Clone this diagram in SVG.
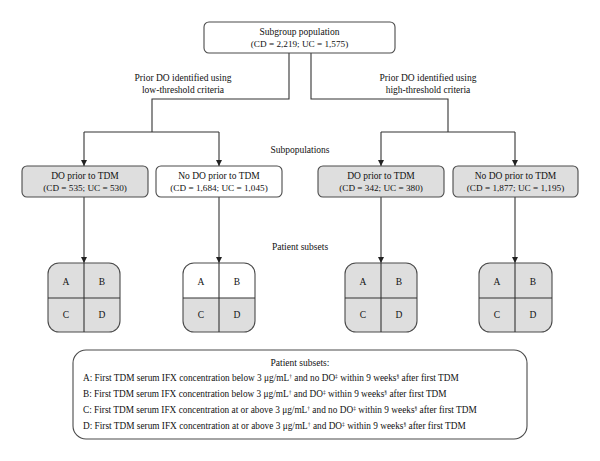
<svg xmlns="http://www.w3.org/2000/svg" width="600" height="461" viewBox="0 0 600 461">
<defs>
<style>
text{font-family:"Liberation Serif","Times New Roman",serif;font-size:9.5px;fill:#111}
.c{text-anchor:middle}
.n{font-size:9.2px}
.lg{font-size:9.3px}
.box{stroke:#4a4a4a;stroke-width:1.1}
.g{fill:#dedede}
.w{fill:#fff}
.ln{fill:none;stroke:#333;stroke-width:1.1}
.sup{font-size:5.5px}
</style>
<marker id="ah" viewBox="0 0 6 6" refX="6" refY="3" markerWidth="6" markerHeight="6" markerUnits="userSpaceOnUse" orient="auto">
<path d="M0,0 L6,3 L0,6 z" fill="#222"/>
</marker>
</defs>
<rect width="600" height="461" fill="#fff"/>

<g id="connectors">
<polyline class="ln" points="289,53 289,99 152,99 152,132"/>
<polyline class="ln" points="84,132 219,132"/>
<line class="ln" x1="84" y1="132" x2="84" y2="166" marker-end="url(#ah)"/>
<line class="ln" x1="219" y1="132" x2="219" y2="166" marker-end="url(#ah)"/>
<polyline class="ln" points="311,53 311,99 448,99 448,132"/>
<polyline class="ln" points="381,132 515,132"/>
<line class="ln" x1="381" y1="132" x2="381" y2="166" marker-end="url(#ah)"/>
<line class="ln" x1="515" y1="132" x2="515" y2="166" marker-end="url(#ah)"/>
<line class="ln" x1="84" y1="197" x2="84" y2="263" marker-end="url(#ah)"/>
<line class="ln" x1="219" y1="197" x2="219" y2="263" marker-end="url(#ah)"/>
<line class="ln" x1="381" y1="197" x2="381" y2="263" marker-end="url(#ah)"/>
<line class="ln" x1="515" y1="197" x2="515" y2="263" marker-end="url(#ah)"/>
</g>

<g id="labels">
<text class="c" x="183" y="81">Prior DO identified using</text>
<text class="c" x="183" y="93">low-threshold criteria</text>
<text class="c" x="428" y="81">Prior DO identified using</text>
<text class="c" x="428" y="93">high-threshold criteria</text>
<text class="c" x="300" y="153">Subpopulations</text>
<text class="c" x="300" y="250">Patient subsets</text>
</g>

<g id="top">
<rect class="box w" x="204" y="22" width="191" height="31" rx="5"/>
<text class="c" x="299.5" y="35">Subgroup population</text>
<text class="c n" x="299.5" y="47">(CD = 2,219; UC = 1,575)</text>
</g>

<g id="low-do">
<rect class="box g" x="22" y="166" width="126" height="31" rx="5"/>
<text class="c" x="85" y="179">DO prior to TDM</text>
<text class="c n" x="85" y="191">(CD = 535; UC = 530)</text>
</g>
<g id="low-nodo">
<rect class="box w" x="156" y="166" width="126" height="31" rx="5"/>
<text class="c" x="219" y="179">No DO prior to TDM</text>
<text class="c n" x="219" y="191">(CD = 1,684; UC = 1,045)</text>
</g>
<g id="high-do">
<rect class="box g" x="318" y="166" width="126" height="31" rx="5"/>
<text class="c" x="381" y="179">DO prior to TDM</text>
<text class="c n" x="381" y="191">(CD = 342; UC = 380)</text>
</g>
<g id="high-nodo">
<rect class="box g" x="453" y="166" width="125" height="31" rx="5"/>
<text class="c" x="515.5" y="179">No DO prior to TDM</text>
<text class="c n" x="515.5" y="191">(CD = 1,877; UC = 1,195)</text>
</g>

<g id="grid1">
<rect class="box g" x="48" y="263" width="72" height="69" rx="11"/>
<line class="ln" x1="84" y1="263" x2="84" y2="332"/>
<line class="ln" x1="48" y1="298" x2="120" y2="298"/>
<text class="c" x="66" y="285">A</text><text class="c" x="102" y="285">B</text>
<text class="c" x="66" y="318">C</text><text class="c" x="102" y="318">D</text>
</g>
<g id="grid2">
<path class="g" d="M183,298 H255 V321 a11,11 0 0 1 -11,11 H194 a11,11 0 0 1 -11,-11 Z"/>
<rect class="box" fill="none" x="183" y="263" width="72" height="69" rx="11"/>
<line class="ln" x1="219" y1="263" x2="219" y2="332"/>
<line class="ln" x1="183" y1="298" x2="255" y2="298"/>
<text class="c" x="201" y="285">A</text><text class="c" x="237" y="285">B</text>
<text class="c" x="201" y="318">C</text><text class="c" x="237" y="318">D</text>
</g>
<g id="grid3">
<rect class="box g" x="345" y="263" width="72" height="69" rx="11"/>
<line class="ln" x1="381" y1="263" x2="381" y2="332"/>
<line class="ln" x1="345" y1="298" x2="417" y2="298"/>
<text class="c" x="363" y="285">A</text><text class="c" x="399" y="285">B</text>
<text class="c" x="363" y="318">C</text><text class="c" x="399" y="318">D</text>
</g>
<g id="grid4">
<rect class="box g" x="479" y="263" width="73" height="69" rx="11"/>
<line class="ln" x1="515" y1="263" x2="515" y2="332"/>
<line class="ln" x1="479" y1="298" x2="552" y2="298"/>
<text class="c" x="497" y="285">A</text><text class="c" x="533" y="285">B</text>
<text class="c" x="497" y="318">C</text><text class="c" x="533" y="318">D</text>
</g>

<g id="legend">
<rect class="box w" x="73" y="350" width="454" height="89" rx="13"/>
<text class="c" x="300" y="366">Patient subsets:</text>
<text class="lg" x="83" y="381">A: First TDM serum IFX concentration below 3 μg/mL<tspan class="sup" dy="-3">†</tspan><tspan dy="3"> and no DO</tspan><tspan class="sup" dy="-3">‡</tspan><tspan dy="3"> within 9 weeks</tspan><tspan class="sup" dy="-3">§</tspan><tspan dy="3"> after first TDM</tspan></text>
<text class="lg" x="83" y="397">B: First TDM serum IFX concentration below 3 μg/mL<tspan class="sup" dy="-3">†</tspan><tspan dy="3"> and DO</tspan><tspan class="sup" dy="-3">‡</tspan><tspan dy="3"> within 9 weeks</tspan><tspan class="sup" dy="-3">§</tspan><tspan dy="3"> after first TDM</tspan></text>
<text class="lg" x="83" y="413">C: First TDM serum IFX concentration at or above 3 μg/mL<tspan class="sup" dy="-3">†</tspan><tspan dy="3"> and no DO</tspan><tspan class="sup" dy="-3">‡</tspan><tspan dy="3"> within 9 weeks</tspan><tspan class="sup" dy="-3">§</tspan><tspan dy="3"> after first TDM</tspan></text>
<text class="lg" x="83" y="429">D: First TDM serum IFX concentration at or above 3 μg/mL<tspan class="sup" dy="-3">†</tspan><tspan dy="3"> and DO</tspan><tspan class="sup" dy="-3">‡</tspan><tspan dy="3"> within 9 weeks</tspan><tspan class="sup" dy="-3">§</tspan><tspan dy="3"> after first TDM</tspan></text>
</g>
</svg>
